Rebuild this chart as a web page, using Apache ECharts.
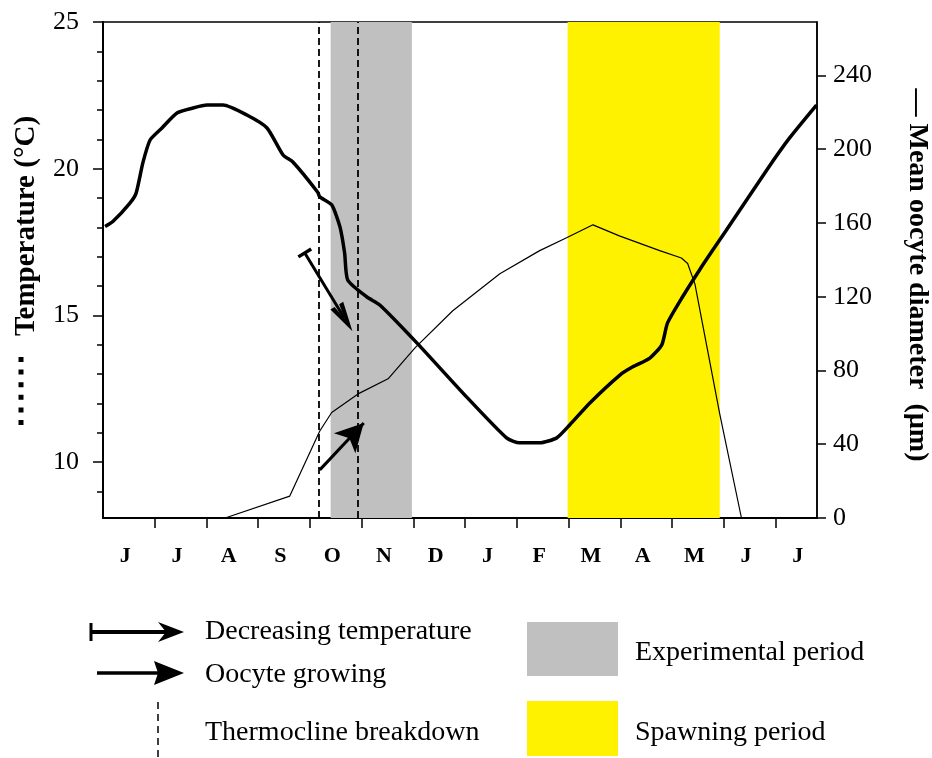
<!DOCTYPE html>
<html><head><meta charset="utf-8">
<script src="https://cdn.jsdelivr.net/npm/echarts@6/dist/echarts.min.js"></script>
<style>html,body{margin:0;padding:0;background:#fff}#c{width:932px;height:758px}</style>
</head><body><div id="c"></div>
<script>
// ---- data (x in months from start of June) ----
const months = ['J','J','A','S','O','N','D','J','F','M','A','M','J','J'];
const monthTicks = [1,2,3,4,5,6,7,8,9,10,11,12,13];
const tempLabels = [10,15,20,25];
const tempMinor = [9,11,12,13,14,16,17,18,19,21,22,23,24];
const diamLabels = [0,40,80,120,160,200,240];

const tempMonth = [0.04,0.19,0.52,0.64,0.77,0.91,1.14,1.43,1.74,2.01,2.32,2.78,3.17,3.48,3.67,4.15,4.19,4.42,4.58,4.67,4.73,5.10,5.35,6.07,7.03,7.80,8.05,8.44,8.77,9.02,9.41,9.99,10.24,10.57,10.80,10.91,11.2,11.53,11.76,12.05,12.83,13.27,13.79];
const tempValue = [18.03,18.2,18.83,19.17,20.2,20.98,21.39,21.9,22.07,22.17,22.17,21.83,21.39,20.47,20.23,19.2,19.04,18.77,18.02,17.13,16.21,15.63,15.36,14.06,12.22,10.83,10.66,10.66,10.83,11.27,12.02,12.97,13.25,13.55,14.0,14.74,15.63,16.55,17.16,17.91,19.96,21.05,22.17];

const diamMonth = [0,2.36,3.61,4.19,4.42,4.93,5.51,6.03,6.76,7.67,8.44,8.96,9.47,9.98,10.76,11.18,11.30,11.44,11.92,12.34];
const diamValue = [0,0,11.9,47.2,57.2,67.3,75.5,92.3,112.4,132.5,145,152,159,153,145,141,138,127,56.5,0];

const experimental = [4.40, 5.97];
const spawning = [8.98, 11.92];
const thermocline = [4.17, 4.93];
const decArrow = [[3.90,17.13],[4.67,14.90]];
const growArrow = [[4.19,9.74],[5.04,11.34]];

const TEMP_MIN = 8.1, TEMP_MAX = 25, X_MAX = 13.8, DIAM_MAX = 269;
const LABEL_SHIFT = 0.43;
const monthCenters = months.map((m,i)=>i+LABEL_SHIFT);
const SERIF = '"Liberation Serif","Times New Roman",serif';

const chart = echarts.init(document.getElementById('c'));
const zip = (a,b)=>a.map((v,i)=>[v,b[i]]);
const dash = {color:'#000', width:1.8, type:[7,4]};
const arrowLine = {color:'#000', width:3, type:'solid'};

const option = {
  animation:false,
  backgroundColor:'#fff',
  grid:{left:103, top:22, right:115, bottom:240, show:true, borderColor:'#000', borderWidth:1.5, backgroundColor:'transparent'},
  xAxis:{type:'value', min:0, max:X_MAX,
    axisLine:{lineStyle:{color:'#000', width:2}},
    axisTick:{show:true, length:10, lineStyle:{color:'#000', width:1.5}, customValues:monthTicks},
    axisLabel:{customValues:monthCenters, formatter:v=>months[Math.round(v-LABEL_SHIFT)]||'', margin:27,
      fontSize:22, fontWeight:'bold', fontFamily:SERIF, color:'#000'},
    splitLine:{show:false}},
  yAxis:[
    {type:'value', position:'left', min:TEMP_MIN, max:TEMP_MAX,
      axisLine:{show:true, lineStyle:{color:'#000', width:2}},
      axisTick:{show:true, length:10, lineStyle:{color:'#000', width:1.5}, customValues:tempLabels},
      axisLabel:{customValues:tempLabels, margin:24, fontSize:26, fontFamily:SERIF, color:'#000'},
      splitLine:{show:false}},
    {type:'value', position:'left', min:TEMP_MIN, max:TEMP_MAX,
      axisLine:{show:false},
      axisTick:{show:true, length:6, lineStyle:{color:'#000', width:1.5}, customValues:tempMinor},
      axisLabel:{show:false}, splitLine:{show:false}},
    {type:'value', position:'right', min:0, max:DIAM_MAX,
      axisLine:{show:true, lineStyle:{color:'#000', width:1.5}},
      axisTick:{show:true, length:9, lineStyle:{color:'#000', width:1.5}, customValues:diamLabels},
      axisLabel:{customValues:diamLabels, margin:16, fontSize:26, fontFamily:SERIF, color:'#000'},
      splitLine:{show:false}}
  ],
  series:[
    {type:'line', name:'Temperature', xAxisIndex:0, yAxisIndex:0, data:zip(tempMonth,tempValue),
      symbol:'none', smooth:0.2, lineStyle:{color:'#000', width:3.5}, z:3, silent:true,
      markArea:{silent:true, data:[
        [{xAxis:experimental[0], itemStyle:{color:'#c0c0c0', opacity:1}},{xAxis:experimental[1]}],
        [{xAxis:spawning[0], itemStyle:{color:'#fff200', opacity:1}},{xAxis:spawning[1]}]
      ]},
      markLine:{silent:true, symbol:['none','none'], label:{show:false}, emphasis:{disabled:true},
        lineStyle:arrowLine,
        data:[
          {xAxis:thermocline[0], lineStyle:dash},
          {xAxis:thermocline[1], lineStyle:dash},
          [{coord:decArrow[0], symbol:'rect', symbolSize:[15,3.5], lineStyle:arrowLine},
           {coord:decArrow[1], symbol:'path://M50,0 L100,100 L68,100 L50,48 L32,100 L0,100 Z', symbolSize:[15,30], lineStyle:arrowLine}],
          [{coord:growArrow[0], symbol:'none', lineStyle:arrowLine},
           {coord:growArrow[1], symbol:'arrow', symbolSize:[22,28], lineStyle:arrowLine}]
        ]}
    },
    {type:'line', name:'Diameter', xAxisIndex:0, yAxisIndex:2, data:zip(diamMonth,diamValue),
      symbol:'none', lineStyle:{color:'#000', width:1.2}, z:2, silent:true}
  ],
  graphic:[
    {type:'text', x:27, y:226, rotation:Math.PI/2,
      style:{text:'Temperature (°C)', fontSize:29, fontWeight:'bold', fontFamily:SERIF, fill:'#000', align:'center', verticalAlign:'middle'}},
    {type:'line', shape:{x1:21, y1:357, x2:21, y2:426}, style:{stroke:'#000', lineWidth:5, lineDash:[5,7.6]}},
    {type:'text', x:917, y:275, rotation:-Math.PI/2,
      style:{text:'— Mean oocyte diameter  (µm)', fontSize:28, fontWeight:'bold', fontFamily:SERIF, fill:'#000', align:'center', verticalAlign:'middle'}},
    // legend
    {type:'line', shape:{x1:91, y1:623, x2:91, y2:641}, style:{stroke:'#000', lineWidth:3}},
    {type:'line', shape:{x1:91, y1:632, x2:172, y2:632}, style:{stroke:'#000', lineWidth:4}},
    {type:'polygon', shape:{points:[[184,632],[158,622],[166,632],[158,642]]}, style:{fill:'#000'}},
    {type:'text', x:205, y:632, style:{text:'Decreasing temperature', fontSize:28, fontFamily:SERIF, fill:'#000', align:'left', verticalAlign:'middle'}},
    {type:'line', shape:{x1:97, y1:673, x2:165, y2:673}, style:{stroke:'#000', lineWidth:3.5}},
    {type:'polygon', shape:{points:[[184,673],[154,661],[158,673],[154,685]]}, style:{fill:'#000'}},
    {type:'text', x:205, y:675, style:{text:'Oocyte growing', fontSize:28, fontFamily:SERIF, fill:'#000', align:'left', verticalAlign:'middle'}},
    {type:'line', shape:{x1:158, y1:702, x2:158, y2:758}, style:{stroke:'#000', lineWidth:1.5, lineDash:[7,5]}},
    {type:'text', x:205, y:733, style:{text:'Thermocline breakdown', fontSize:28, fontFamily:SERIF, fill:'#000', align:'left', verticalAlign:'middle'}},
    {type:'rect', shape:{x:527, y:622, width:91, height:54}, style:{fill:'#c0c0c0'}},
    {type:'text', x:635, y:653, style:{text:'Experimental period', fontSize:28, fontFamily:SERIF, fill:'#000', align:'left', verticalAlign:'middle'}},
    {type:'rect', shape:{x:527, y:701, width:91, height:55}, style:{fill:'#fff200'}},
    {type:'text', x:635, y:733, style:{text:'Spawning period', fontSize:28, fontFamily:SERIF, fill:'#000', align:'left', verticalAlign:'middle'}}
  ]
};
chart.setOption(option);
</script>
</body></html>
